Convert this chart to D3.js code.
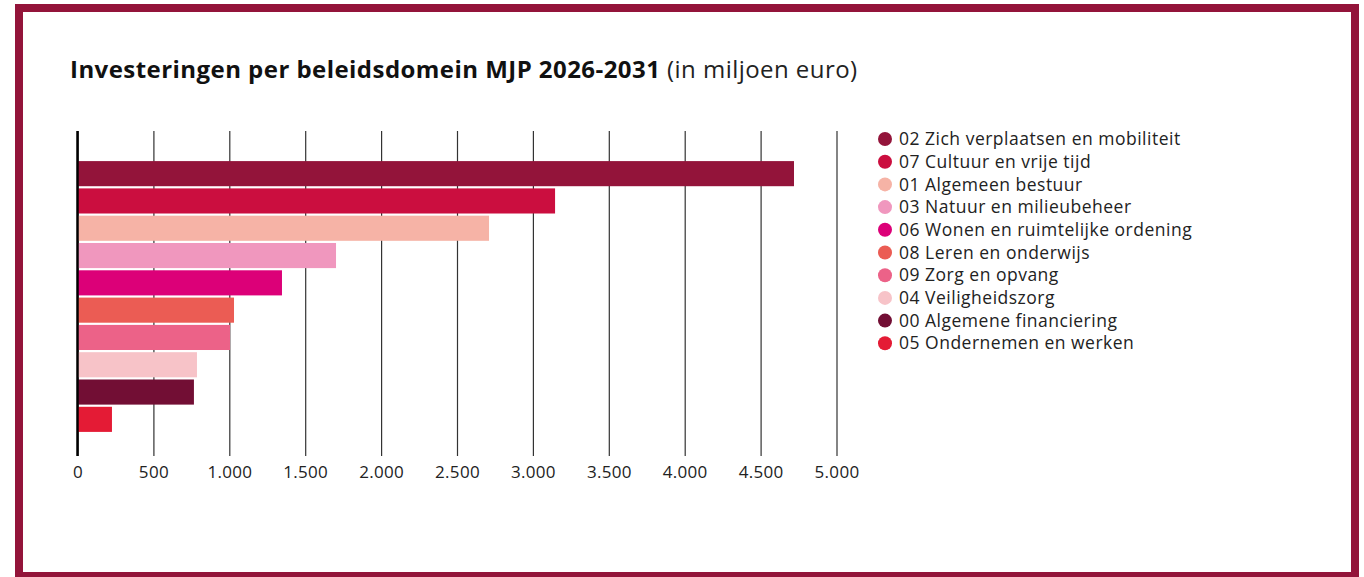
<!DOCTYPE html>
<html>
<head>
<meta charset="utf-8">
<script src="https://cdn.jsdelivr.net/npm/d3@7"></script>
<style>
  body { margin: 0; background: #fff; }
  svg { display: block; font-family: "Open Sans", sans-serif; }
</style>
</head>
<body>
<div id="chart"></div>
<script>
// data (in miljoen euro)
var domains = [
    "02 Zich verplaatsen en mobiliteit",
    "07 Cultuur en vrije tijd",
    "01 Algemeen bestuur",
    "03 Natuur en milieubeheer",
    "06 Wonen en ruimtelijke ordening",
    "08 Leren en onderwijs",
    "09 Zorg en opvang",
    "04 Veiligheidszorg",
    "00 Algemene financiering",
    "05 Ondernemen en werken"
];
var amounts = [4720, 3146, 2711, 1703, 1347, 1031, 1005, 787, 767, 227];
var colors = ["#93143a", "#cb0e3f", "#f6b3a6", "#f097be", "#dc0078",
              "#eb5c54", "#ec6288", "#f7c3c8", "#720e34", "#e41b35"];
var ticks = [0, 500, 1000, 1500, 2000, 2500, 3000, 3500, 4000, 4500, 5000];

var width = 1364, height = 577;
var plot = { left: 77.5, right: 836.5, top: 131, bottom: 456 };

var svg = d3.select("#chart").append("svg")
    .attr("width", width)
    .attr("height", height);

// frame
svg.append("rect")
    .attr("x", 19).attr("y", 8)
    .attr("width", 1336).attr("height", 568)
    .attr("fill", "#fff")
    .attr("stroke", "#93143a")
    .attr("stroke-width", 8);

// title
var title = svg.append("text")
    .attr("x", 70).attr("y", 78)
    .attr("fill", "#111")
    .style("font-size", "24px")
    .style("letter-spacing", "0.45px");
title.append("tspan").attr("font-weight", 700)
    .text("Investeringen per beleidsdomein MJP 2026-2031");
title.append("tspan").attr("font-weight", 400).attr("fill", "#222")
    .text(" (in miljoen euro)");

var xScale = d3.scaleLinear().domain([0, 5000]).range([plot.left, plot.right]);
var yScale = d3.scaleBand().domain(domains).range([160, 433])
    .paddingInner(0.08).paddingOuter(0.04);

var fmt = function (d) { return d3.format(",")(d).replace(/,/g, "."); };

// grid + tick labels
var xAxis = d3.axisBottom(xScale)
    .tickValues(ticks)
    .tickSize(-(plot.bottom - plot.top))
    .tickPadding(10)
    .tickFormat(fmt);

var gx = svg.append("g")
    .attr("transform", "translate(0," + plot.bottom + ")")
    .call(xAxis);
gx.select(".domain").remove();
gx.selectAll(".tick line").attr("stroke", "#333").attr("stroke-width", 1.2);
gx.selectAll(".tick text")
    .attr("fill", "#222")
    .style("font-size", "17px")
    .style("letter-spacing", "0.3px")
    .style("font-family", "'Open Sans', sans-serif");

// bars
svg.append("g").selectAll("rect")
    .data(domains)
    .enter().append("rect")
    .attr("x", xScale(0))
    .attr("y", function (d) { return yScale(d); })
    .attr("width", function (d, i) { return xScale(amounts[i]) - xScale(0); })
    .attr("height", yScale.bandwidth())
    .attr("fill", function (d, i) { return colors[i]; });

// zero axis line
svg.append("line")
    .attr("x1", xScale(0)).attr("x2", xScale(0))
    .attr("y1", plot.top).attr("y2", plot.bottom)
    .attr("stroke", "#000")
    .attr("stroke-width", 2.5);

// legend
var legend = svg.append("g").attr("transform", "translate(885,139)");
var item = legend.selectAll("g")
    .data(domains)
    .enter().append("g")
    .attr("transform", function (d, i) { return "translate(0," + (i * 22.7) + ")"; });
item.append("circle")
    .attr("r", 7)
    .attr("fill", function (d, i) { return colors[i]; });
item.append("text")
    .attr("x", 14)
    .attr("dy", "0.35em")
    .attr("fill", "#222")
    .style("font-size", "17.5px")
    .style("letter-spacing", "0.5px")
    .text(function (d) { return d; });
</script>
</body>
</html>
